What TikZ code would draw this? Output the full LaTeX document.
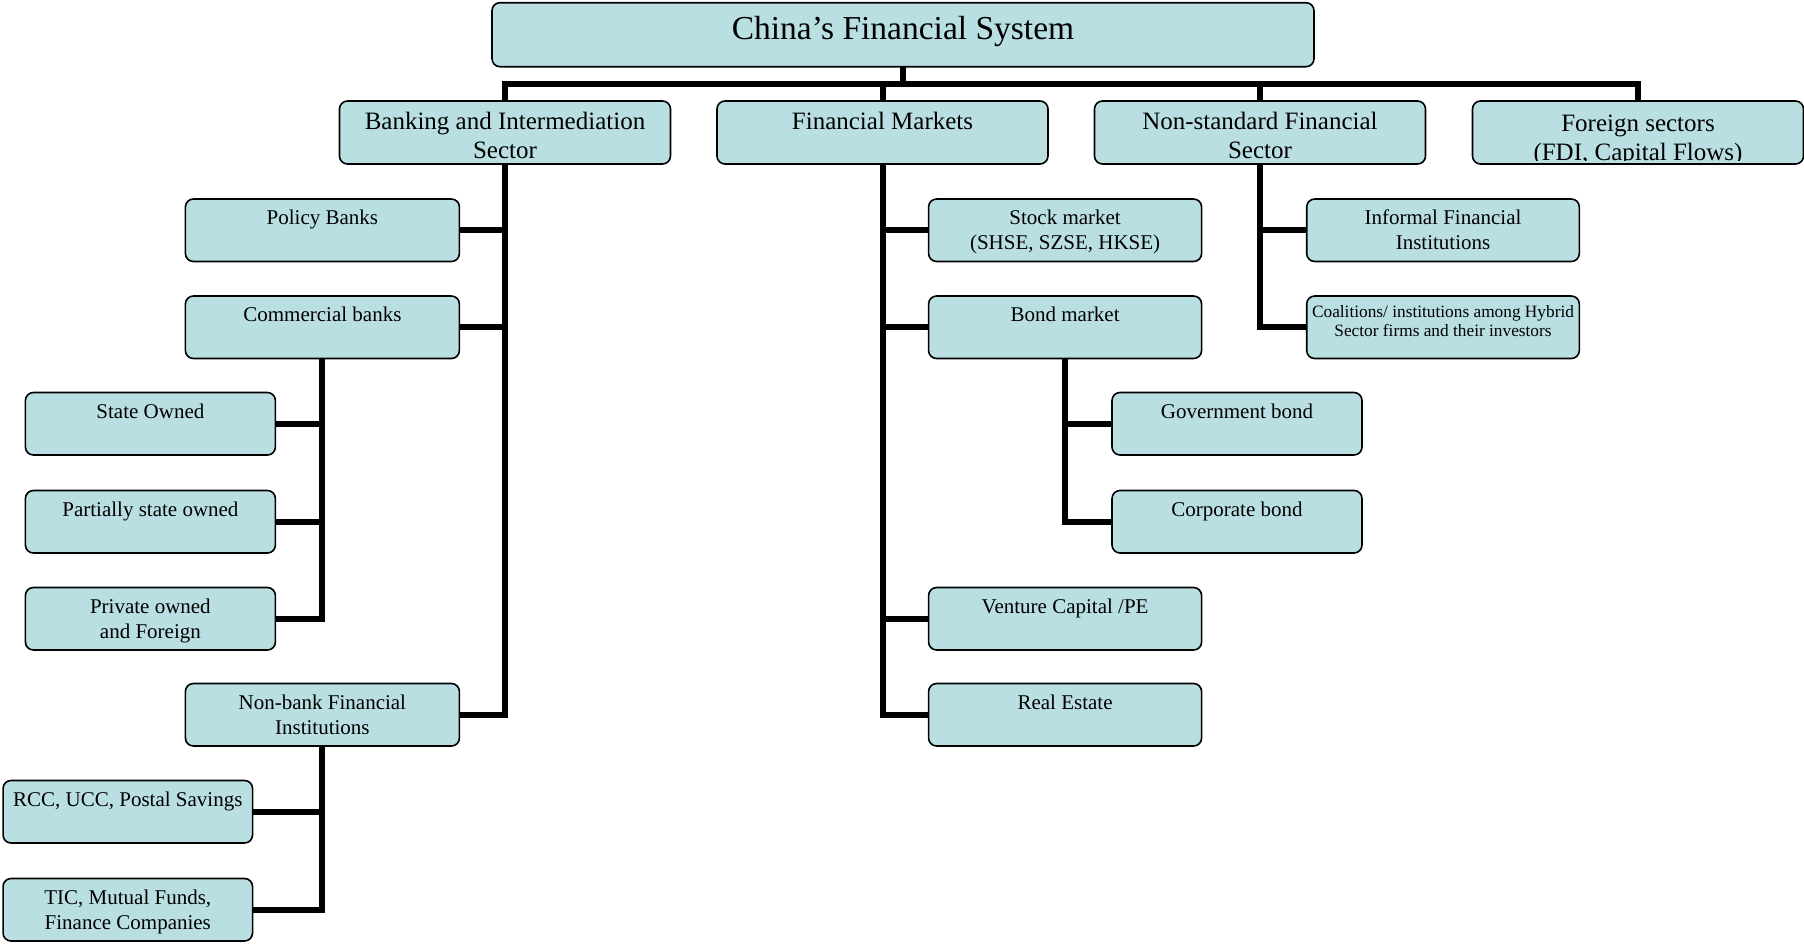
\documentclass[tikz,border=0pt]{standalone}
\usepackage{fontspec}
\setmainfont{Liberation Serif}
\usetikzlibrary{backgrounds}
\definecolor{boxfill}{RGB}{186,223,227}
\newcommand{\bxt}[4]{\parbox[c][#2][t]{#1}{\centering\rule{0pt}{#3}#4\par}}
\tikzset{
  box/.style={draw=black, line width=1.6pt, fill=boxfill, rounded corners=8pt, inner sep=0pt, outer sep=0pt},
  lvlzero/.style={box, font=\fontsize{33.5}{40}\selectfont},
  lvlone/.style={box, font=\fontsize{25}{29}\selectfont},
  lvltwo/.style={box, font=\fontsize{21}{25}\selectfont},
  lvlsmall/.style={box, font=\fontsize{17.3}{19}\selectfont},
  conn/.style={line width=6pt, line join=miter, draw=black}
}
\begin{document}
\begin{tikzpicture}[x=1pt, y=-1pt]
\useasboundingbox (0,0) rectangle (1804,943);
% root
\node[lvlzero] (root) at (903,34.7) {\bxt{822pt}{64pt}{36.6pt}{China’s Financial System}};
% level one
\node[lvlone] (bank) at (505,132.5) {\bxt{331pt}{63pt}{28.8pt}{Banking and Intermediation\\Sector}};
\node[lvlone] (fm) at (882.5,132.5) {\bxt{331pt}{63pt}{28.8pt}{Financial Markets}};
\node[lvlone] (ns) at (1260,132.5) {\bxt{331pt}{63pt}{28.8pt}{Non-standard Financial\\Sector}};
\node[lvlone, path picture={
    \clip (path picture bounding box.north west) rectangle ([yshift=3.5pt]path picture bounding box.south east);
    \node[anchor=base, inner sep=0pt, font=\fontsize{25}{29}\selectfont] at ([yshift=-59.5pt]path picture bounding box.north) {(FDI, Capital Flows)};
  }] (foreign) at (1638,132.5) {\bxt{331pt}{63pt}{30pt}{Foreign sectors}};
% banking column
\node[lvltwo] (policy) at (322.4,230.25) {\bxt{274pt}{62.5pt}{25.6pt}{Policy Banks}};
\node[lvltwo] (commercial) at (322.4,327.25) {\bxt{274pt}{62.5pt}{25.6pt}{Commercial banks}};
\node[lvltwo] (state) at (150.4,423.75) {\bxt{250pt}{62.5pt}{25.6pt}{State Owned}};
\node[lvltwo] (partial) at (150.4,521.75) {\bxt{250pt}{62.5pt}{25.6pt}{Partially state owned}};
\node[lvltwo] (private) at (150.4,618.75) {\bxt{250pt}{62.5pt}{25.6pt}{Private owned\\and Foreign}};
\node[lvltwo] (nonbank) at (322.4,714.75) {\bxt{274pt}{62.5pt}{25.6pt}{Non-bank Financial\\Institutions}};
\node[lvltwo] (rcc) at (127.8,811.75) {\bxt{249.5pt}{62.5pt}{25.6pt}{RCC, UCC, Postal Savings}};
\node[lvltwo] (tic) at (127.8,909.75) {\bxt{249.5pt}{62.5pt}{25.6pt}{TIC, Mutual Funds,\\Finance Companies}};
% markets column
\node[lvltwo] (stock) at (1065.1,230.25) {\bxt{273pt}{62.5pt}{25pt}{Stock market\\(SHSE, SZSE, HKSE)}};
\node[lvltwo] (bond) at (1065.1,327.25) {\bxt{273pt}{62.5pt}{25.6pt}{Bond market}};
\node[lvltwo] (govt) at (1237,423.75) {\bxt{250pt}{62.5pt}{25.6pt}{Government bond}};
\node[lvltwo] (corp) at (1237,521.75) {\bxt{250pt}{62.5pt}{25.6pt}{Corporate bond}};
\node[lvltwo] (venture) at (1065.1,618.75) {\bxt{273pt}{62.5pt}{25.6pt}{Venture Capital /PE}};
\node[lvltwo] (realestate) at (1065.1,714.75) {\bxt{273pt}{62.5pt}{25.6pt}{Real Estate}};
% non-standard column
\node[lvltwo] (informal) at (1443,230.25) {\bxt{272.6pt}{62.5pt}{25pt}{Informal Financial\\Institutions}};
\node[lvlsmall] (coal) at (1443,327.25) {\bxt{272.6pt}{62.5pt}{21.2pt}{Coalitions/ institutions among Hybrid\\Sector firms and their investors}};
\coordinate (bar) at (903,84);
\begin{pgfonlayer}{background}
\draw[conn] (root.south) -- (root.south |- bar);
\draw[conn] (bank.north) -- (bank.north |- bar) -- (foreign.north |- bar) -- (foreign.north);
\draw[conn] (fm.north) -- (fm.north |- bar);
\draw[conn] (ns.north) -- (ns.north |- bar);
% banking
\draw[conn] (bank.south) -- (bank.south |- nonbank.east) -- (nonbank.east);
\draw[conn] (policy.east) -- (policy.east -| bank.south);
\draw[conn] (commercial.east) -- (commercial.east -| bank.south);
\draw[conn] (commercial.south) -- (commercial.south |- private.east) -- (private.east);
\draw[conn] (state.east) -- (state.east -| commercial.south);
\draw[conn] (partial.east) -- (partial.east -| commercial.south);
\draw[conn] (nonbank.south) -- (nonbank.south |- tic.east) -- (tic.east);
\draw[conn] (rcc.east) -- (rcc.east -| nonbank.south);
% markets
\draw[conn] (fm.south) -- (fm.south |- realestate.west) -- (realestate.west);
\draw[conn] (stock.west) -- (stock.west -| fm.south);
\draw[conn] (bond.west) -- (bond.west -| fm.south);
\draw[conn] (venture.west) -- (venture.west -| fm.south);
\draw[conn] (bond.south) -- (bond.south |- corp.west) -- (corp.west);
\draw[conn] (govt.west) -- (govt.west -| bond.south);
% non-standard
\draw[conn] (ns.south) -- (ns.south |- coal.west) -- (coal.west);
\draw[conn] (informal.west) -- (informal.west -| ns.south);
\end{pgfonlayer}
\end{tikzpicture}
\end{document}
